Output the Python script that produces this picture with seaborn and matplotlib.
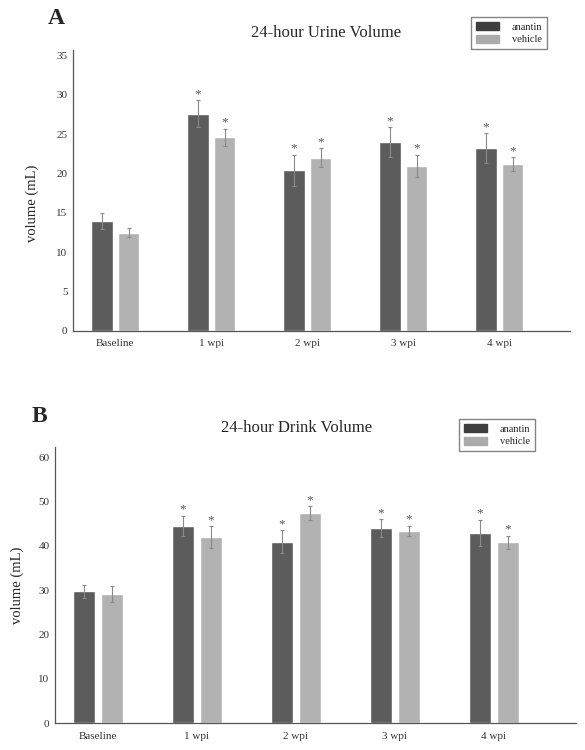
import matplotlib
matplotlib.use("Agg")
import matplotlib.pyplot as plt
import seaborn as sns
import pandas as pd
import numpy as np

categories = ["Baseline", "1 wpi", "2 wpi", "3 wpi", "4 wpi"]
groups = ["anantin", "vehicle"]
significant = [False, True, True, True, True]

urine_anantin = [14.0, 27.6, 20.4, 24.0, 23.2]
urine_anantin_err = [1.0, 1.7, 2.0, 1.9, 1.9]
urine_vehicle = [12.5, 24.6, 22.0, 21.0, 21.2]
urine_vehicle_err = [0.6, 1.1, 1.2, 1.4, 0.9]

drink_anantin = [29.8, 44.5, 41.0, 44.1, 42.9]
drink_anantin_err = [1.5, 2.3, 2.5, 2.0, 3.0]
drink_vehicle = [29.2, 42.0, 47.4, 43.4, 40.8]
drink_vehicle_err = [1.8, 2.5, 1.6, 1.2, 1.5]

urine_ticks = [0, 5, 10, 15, 20, 25, 30, 35]
drink_ticks = [0, 10, 20, 30, 40, 50, 60]

sns.set_style("white")
plt.rcParams["font.family"] = ["Liberation Serif", "DejaVu Serif"]

colors = {"anantin": "#5c5c5c", "vehicle": "#b2b2b2"}
legend_colors = {"anantin": "#3e3e3e", "vehicle": "#ababab"}

fig = plt.figure(figsize=(5.85, 7.5), dpi=100)
axA = fig.add_axes([0.1248, 0.5587, 0.850, 0.3747])
axB = fig.add_axes([0.094, 0.0356, 0.8906, 0.3689])


def panel(ax, a_vals, a_err, v_vals, v_err, ticks, ylim, xlim, title, title_xy,
          letter, letter_xy, leg_xy, ylab_xy):
    df = pd.DataFrame({
        "category": categories * 2,
        "group": ["anantin"] * len(categories) + ["vehicle"] * len(categories),
        "value": list(a_vals) + list(v_vals),
    })
    sns.barplot(data=df, x="category", y="value", hue="group", order=categories,
                hue_order=groups, palette=colors, errorbar=None, width=0.56,
                gap=0.2, ax=ax, legend=False, saturation=1)
    errs = list(a_err) + list(v_err)
    vals = list(a_vals) + list(v_vals)
    sig = significant * 2
    bars = [p for p in ax.patches][: len(vals)]
    for p, v, e, s in zip(bars, vals, errs, sig):
        xc = p.get_x() + p.get_width() / 2
        ax.errorbar(xc, v, yerr=e, fmt="none", ecolor="#8a8a8a", elinewidth=0.8,
                    capsize=1.5, capthick=0.8, zorder=3)
        if s:
            ax.annotate("*", (xc, v + e), xytext=(0, 0), textcoords="offset points",
                        ha="center", va="bottom", fontsize=9.5, color="#555555")
    ax.set_ylim(*ylim)
    ax.set_xlim(*xlim)
    ax.set_yticks(ticks)
    ax.set_yticklabels([str(t) for t in ticks])
    ax.tick_params(axis="both", length=0, labelsize=8, colors="#333333")
    ax.tick_params(axis="y", pad=4)
    ax.tick_params(axis="x", pad=6)
    ax.set_xlabel("")
    ax.set_ylabel("")
    for s in ["top", "right"]:
        ax.spines[s].set_visible(False)
    for s in ["left", "bottom"]:
        ax.spines[s].set_color("#555555")
        ax.spines[s].set_linewidth(0.9)
    fig.text(title_xy[0], title_xy[1], title, ha="center", va="center", fontsize=12)
    fig.text(letter_xy[0], letter_xy[1], letter, ha="left", va="center",
             fontsize=17, fontweight="bold")
    fig.text(ylab_xy[0], ylab_xy[1], "volume (mL)", rotation=90, ha="center",
             va="center", fontsize=10.5)
    handles = [plt.Rectangle((0, 0), 1, 1, color=legend_colors[g]) for g in groups]
    leg = ax.legend(handles, groups, loc="upper left", bbox_to_anchor=leg_xy,
                    bbox_transform=fig.transFigure, fontsize=7.5, frameon=True,
                    fancybox=False, edgecolor="#666666", handlelength=2.2,
                    handleheight=0.8, handletextpad=1.25, borderpad=0.45,
                    borderaxespad=0, labelspacing=0.3)
    leg.get_frame().set_linewidth(1.0)


panel(axA, urine_anantin, urine_anantin_err, urine_vehicle, urine_vehicle_err,
      urine_ticks, (0, 35.7), (-0.44, 4.74), "24-hour Urine Volume", (0.557, 0.956),
      "A", (0.082, 0.975), (0.805, 0.977), (0.055, 0.729))
panel(axB, drink_anantin, drink_anantin_err, drink_vehicle, drink_vehicle_err,
      drink_ticks, (0, 62.4), (-0.434, 4.83), "24-hour Drink Volume", (0.507, 0.429),
      "B", (0.054, 0.444), (0.785, 0.441), (0.029, 0.22))

fig.savefig("out.png", dpi=100)
